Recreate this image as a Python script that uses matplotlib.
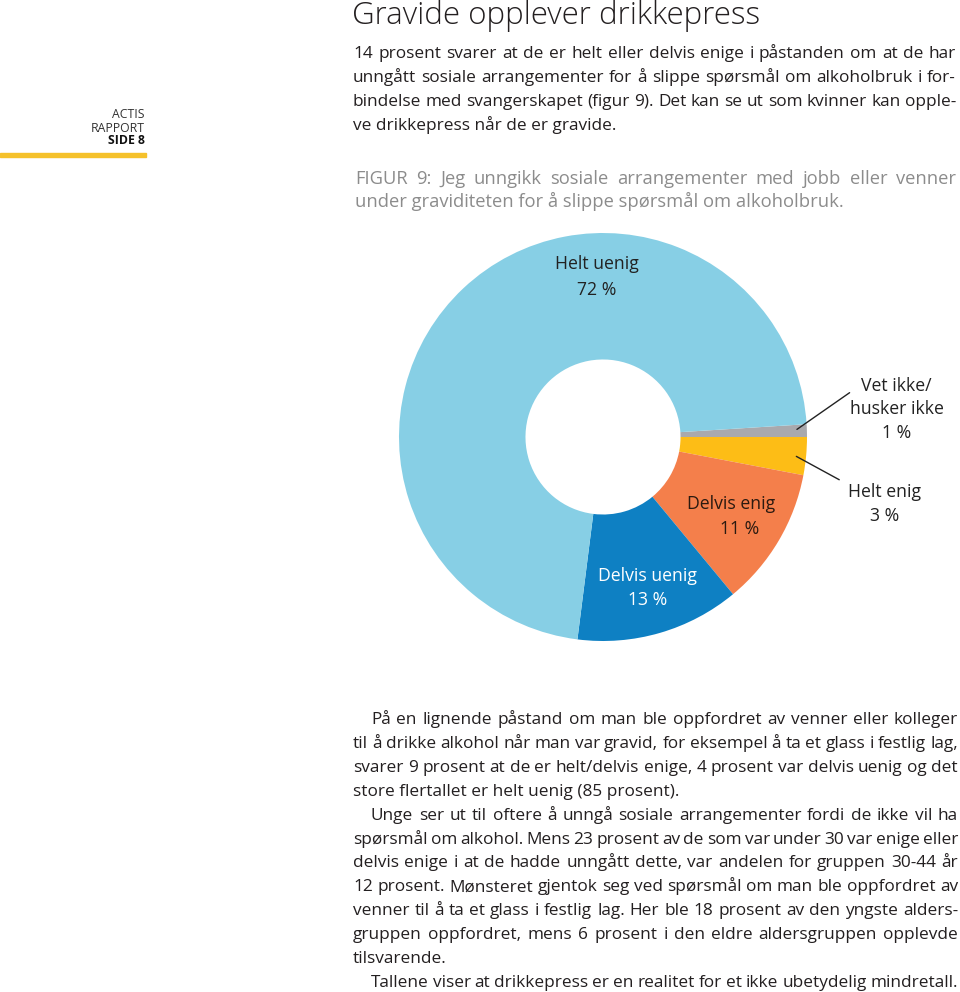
import matplotlib
matplotlib.use("Agg")
import matplotlib.pyplot as plt
import numpy as np

plt.rcParams["font.family"] = ["Open Sans", "DejaVu Sans"]

W, H = 960, 992

# data
categories = ["Vet ikke/\nhusker ikke", "Helt enig", "Delvis enig", "Delvis uenig", "Helt uenig"]
shares = [1, 3, 11, 13, 72]
colors = ["#A9A9AD", "#FDBD16", "#F47F4B", "#0E80C3", "#87CFE5"]

title = "Gravide opplever drikkepress"
intro = [
    "14 prosent svarer at de er helt eller delvis enige i påstanden om at de har",
    "unngått sosiale arrangementer for å slippe spørsmål om alkoholbruk i for-",
    "bindelse med svangerskapet (figur 9). Det kan se ut som kvinner kan opple-",
    "ve drikkepress når de er gravide.",
]
caption = [
    "FIGUR 9: Jeg unngikk sosiale arrangementer med jobb eller venner",
    "under graviditeten for å slippe spørsmål om alkoholbruk.",
]
# (text, indent, justified)
body = [
    ("På en lignende påstand om man ble oppfordret av venner eller kolleger", True, True),
    ("til å drikke alkohol når man var gravid, for eksempel å ta et glass i festlig lag,", False, True),
    ("svarer 9 prosent at de er helt/delvis enige, 4 prosent var delvis uenig og det", False, True),
    ("store flertallet er helt uenig (85 prosent).", False, False),
    ("Unge ser ut til oftere å unngå sosiale arrangementer fordi de ikke vil ha", True, True),
    ("spørsmål om alkohol. Mens 23 prosent av de som var under 30 var enige eller", False, True),
    ("delvis enige i at de hadde unngått dette, var andelen for gruppen 30-44 år", False, True),
    ("12 prosent.  Mønsteret gjentok seg ved spørsmål om man ble oppfordret av", False, True),
    ("venner til å ta et glass i festlig lag. Her ble 18 prosent av den yngste alders-", False, True),
    ("gruppen oppfordret, mens 6 prosent i den eldre aldersgruppen opplevde", False, True),
    ("tilsvarende.", False, False),
    ("Tallene viser at drikkepress er en realitet for et ikke ubetydelig mindretall.", True, True),
]

fig = plt.figure(figsize=(W / 100, H / 100), dpi=100)
renderer = fig.canvas.get_renderer()


def px(x, y):
    return x / W, 1 - y / H


def put_line(text, x0, x1, y, size, color, justify=True, **kw):
    # y is the baseline in pixels from the top
    if not justify:
        fig.text(*px(x0, y), text, fontsize=size, color=color, va="baseline", **kw)
        return
    words = text.split()
    objs = [fig.text(0, 0, w, fontsize=size, color=color, va="baseline", **kw) for w in words]
    widths = [o.get_window_extent(renderer).width for o in objs]
    gap = (x1 - x0 - sum(widths)) / max(len(words) - 1, 1)
    x = x0
    for o, w in zip(objs, widths):
        o.set_position(px(x, y))
        x += w + gap


# side marker
side_txt = "#333333"
fig.text(*px(145, 115), "ACTIS", ha="right", va="center", fontsize=8.8, color=side_txt)
fig.text(*px(145, 128), "RAPPORT", ha="right", va="center", fontsize=8.8, color=side_txt)
fig.text(*px(145, 141), "SIDE 8", ha="right", va="center", fontsize=8.8,
         color="#111111", fontweight="bold")
fig.add_artist(plt.Rectangle(px(0, 157), 146 / W, 4 / H, color="#F5C12B",
                             transform=fig.transFigure))

# title and intro
fig.text(*px(352, 24), title, fontsize=22.5, color="#231F20", va="baseline", fontweight="light")
for i, line in enumerate(intro):
    put_line(line, 353, 956, 58 + 24 * i, 12.4, "#231F20", justify=i < len(intro) - 1)
for i, line in enumerate(caption):
    put_line(line, 355, 956, 184 + 23 * i, 13.2, "#8C8C8C", justify=i == 0)

# donut
cx, cy, r = 603, 437, 204
ax = fig.add_axes([(cx - r) / W, 1 - (cy + r) / H, 2 * r / W, 2 * r / H])
wedges, _ = ax.pie(shares, colors=colors, startangle=3.6, counterclock=False,
                   radius=1, wedgeprops=dict(width=0.62, linewidth=0))
ax.set_xlim(-1, 1)
ax.set_ylim(-1, 1)
ax.set_aspect("equal")
ax.axis("off")

lab = dict(ha="center", va="center", fontsize=12.7, color="#222222")
ax.text(-0.03, 0.85, "Helt uenig", **lab)
ax.text(-0.03, 0.72, "72 %", **lab)
ax.text(0.22, -0.68, "Delvis uenig", **{**lab, "color": "white"})
ax.text(0.22, -0.80, "13 %", **{**lab, "color": "white"})
ax.text(0.63, -0.33, "Delvis enig", **{**lab, "color": "#2B1A10"})
ax.text(0.67, -0.45, "11 %", **{**lab, "color": "#2B1A10"})

# outside labels with leader lines
outside = [(0, (1.22, 0.225), (1.44, 0.25), ["Vet ikke/", "husker ikke", "1 %"]),
           (1, (1.17, -0.216), (1.38, -0.27), ["Helt enig", "3 %"])]
for idx, end, tpos, lines in outside:
    w = wedges[idx]
    ang = np.deg2rad((w.theta1 + w.theta2) / 2)
    start = (0.94 * np.cos(ang), 0.94 * np.sin(ang))
    ax.annotate("", xy=start, xytext=end,
                arrowprops=dict(arrowstyle="-", color="#222222", lw=1),
                annotation_clip=False)
    for k, t in enumerate(lines):
        ax.text(tpos[0], tpos[1] - 0.115 * k, t, clip_on=False, **lab)

# body text
for i, (line, indent, just) in enumerate(body):
    x0 = 371 if indent else 353
    put_line(line, x0, 958, 724 + 23.9 * i, 12.4, "#231F20", justify=just)

fig.savefig("out.png", dpi=100)
